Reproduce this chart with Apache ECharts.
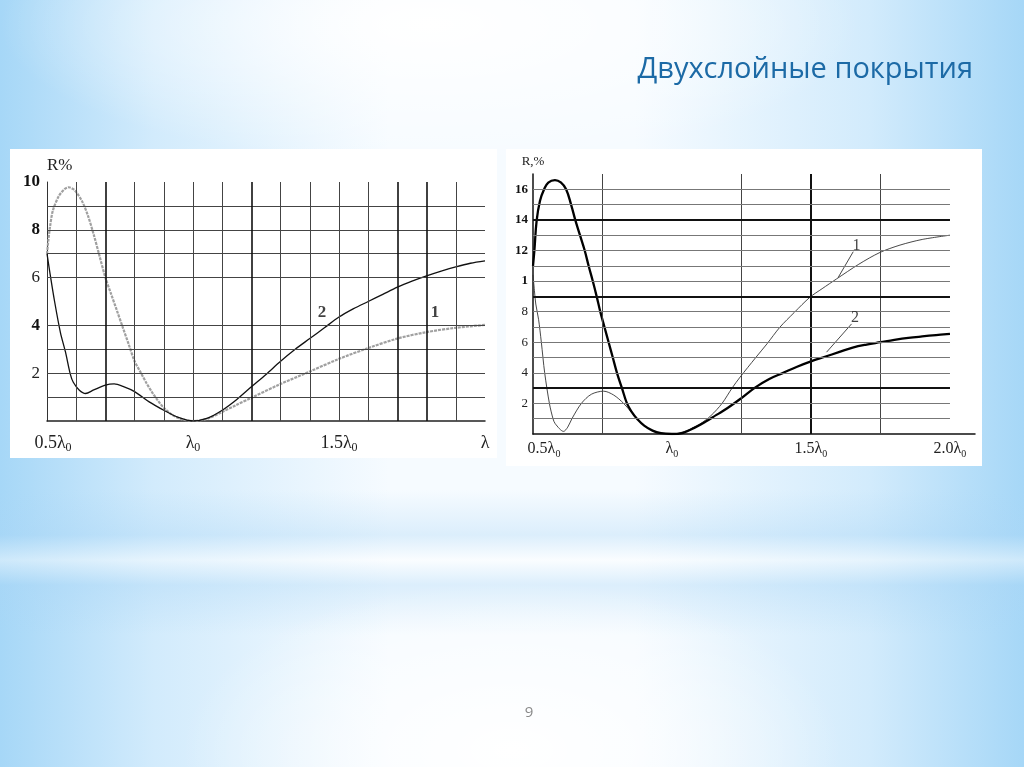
<!DOCTYPE html>
<html>
<head>
<meta charset="utf-8">
<script src="https://cdn.jsdelivr.net/npm/echarts@6/dist/echarts.min.js"></script>
<style>
  html, body { margin: 0; padding: 0; }
  body {
    width: 1024px;
    height: 767px;
    overflow: hidden;
    background:
      radial-gradient(ellipse 330px 170px at 512px 750px, rgba(255,255,255,1), rgba(255,255,255,0)),
      linear-gradient(180deg, rgba(255,255,255,0) 490px, rgba(170,214,246,0.35) 535px, rgba(255,255,255,0.45) 560px, rgba(170,214,246,0.35) 585px, rgba(255,255,255,0) 635px),
      radial-gradient(ellipse 430px 140px at 430px 25px, rgba(255,255,255,1), rgba(255,255,255,0)),
      linear-gradient(90deg, #a6d7f7 0%, #d2ebfc 15%, #f6fbff 38%, #f6fbff 62%, #d2ebfc 85%, #a6d7f7 100%);
  }
  #chart { width: 1024px; height: 767px; }
</style>
</head>
<body>
<div id="chart"></div>
<script>
// left plot: curve 1 (grey) and curve 2 (black)
const leftLam1 = [0.50, 0.505, 0.51, 0.52, 0.54, 0.56, 0.575, 0.59, 0.60, 0.62, 0.64, 0.66, 0.68, 0.70, 0.72, 0.74, 0.76, 0.78, 0.80, 0.82, 0.84, 0.86, 0.88, 0.90, 0.93, 0.96, 1.00, 1.05, 1.10, 1.15, 1.20, 1.30, 1.40, 1.50, 1.60, 1.70, 1.80, 1.90, 2.00];
const leftR1 = [7.0, 7.6, 8.1, 8.8, 9.4, 9.7, 9.78, 9.7, 9.58, 9.2, 8.6, 7.8, 6.9, 6.0, 5.3, 4.6, 3.9, 3.2, 2.5, 2.05, 1.6, 1.2, 0.85, 0.55, 0.25, 0.08, 0.0, 0.1, 0.38, 0.68, 0.97, 1.55, 2.07, 2.6, 3.05, 3.45, 3.72, 3.9, 4.02];
const leftLam2 = [0.50, 0.51, 0.526, 0.546, 0.563, 0.58, 0.59, 0.61, 0.632, 0.66, 0.70, 0.73, 0.76, 0.80, 0.85, 0.90, 0.95, 1.00, 1.05, 1.10, 1.15, 1.20, 1.25, 1.30, 1.35, 1.40, 1.45, 1.50, 1.55, 1.60, 1.65, 1.70, 1.75, 1.80, 1.85, 1.90, 1.95, 2.00];
const leftR2 = [7.0, 6.2, 5.0, 3.7, 2.9, 1.95, 1.62, 1.3, 1.15, 1.3, 1.5, 1.55, 1.45, 1.23, 0.8, 0.45, 0.15, 0.0, 0.12, 0.45, 0.9, 1.43, 1.95, 2.5, 3.0, 3.45, 3.9, 4.35, 4.7, 5.0, 5.3, 5.6, 5.85, 6.07, 6.27, 6.45, 6.6, 6.7];

// right plot: curve 1 (thin) and curve 2 (thick)
const rightLam1 = [0.50, 0.505, 0.51, 0.52, 0.53, 0.542, 0.559, 0.572, 0.58, 0.61, 0.625, 0.64, 0.674, 0.71, 0.754, 0.79, 0.826, 0.874, 0.90, 0.93, 0.96, 1.00, 1.05, 1.10, 1.14, 1.18, 1.216, 1.245, 1.30, 1.342, 1.388, 1.44, 1.496, 1.54, 1.592, 1.672, 1.748, 1.82, 1.90, 2.00];
const rightR1 = [10.4, 9.4, 8.5, 7.5, 6.0, 4.0, 2.0, 1.0, 0.67, 0.17, 0.45, 1.0, 2.0, 2.6, 2.8, 2.55, 2.0, 1.0, 0.55, 0.22, 0.05, 0.0, 0.2, 0.65, 1.2, 2.0, 3.0, 3.72, 4.97, 5.9, 6.98, 7.95, 8.94, 9.5, 10.14, 11.1, 11.87, 12.35, 12.72, 13.0];
const rightLam2 = [0.50, 0.505, 0.513, 0.525, 0.54, 0.555, 0.579, 0.60, 0.619, 0.637, 0.652, 0.669, 0.686, 0.70, 0.715, 0.729, 0.742, 0.757, 0.772, 0.787, 0.802, 0.82, 0.838, 0.855, 0.874, 0.90, 0.93, 0.96, 1.00, 1.04, 1.08, 1.12, 1.16, 1.20, 1.25, 1.30, 1.35, 1.40, 1.45, 1.50, 1.55, 1.60, 1.65, 1.70, 1.75, 1.80, 1.85, 1.90, 1.95, 2.00];
const rightR2 = [11.0, 12.0, 13.94, 15.24, 16.0, 16.44, 16.6, 16.45, 16.0, 15.0, 14.0, 13.0, 12.0, 11.0, 10.0, 9.0, 8.0, 7.0, 6.0, 5.0, 4.0, 3.0, 2.0, 1.45, 1.0, 0.55, 0.22, 0.05, 0.0, 0.08, 0.4, 0.8, 1.25, 1.7, 2.35, 3.05, 3.6, 4.0, 4.4, 4.75, 5.05, 5.35, 5.65, 5.85, 6.0, 6.15, 6.28, 6.38, 6.47, 6.55];

// grid lines
const leftVLines = [0.6, 0.8, 0.9, 1.0, 1.1, 1.3, 1.4, 1.5, 1.6, 1.9];
const leftVLinesBold = [0.7, 1.2, 1.7, 1.8];
const leftHLines = [1, 2, 3, 4, 6, 7, 8, 9];
const rightVLines = [0.75, 1.25, 1.75];
const rightVLinesBold = [1.5];
const rightHLines = [1, 2, 4, 5, 6, 7, 8, 10, 11, 12, 13, 15, 16];
const rightHLinesBold = [3, 9, 14];

// tick labels
const leftXLabels = { '0.5': '0.5λ', '1': 'λ', '1.5': '1.5λ', '2': 'λ' };
const rightXLabels = { '0.5': '0.5λ', '1': 'λ', '1.5': '1.5λ', '2': '2.0λ' };
const leftYLabels = { 2: 'r|2', 4: 'b|4', 6: 'r|6', 8: 'b|8', 10: 'b|10' };
const rightYLabels = { 2: 'r|2', 4: 'r|4', 6: 'r|6', 8: 'r|8', 10: 'b|1', 12: 'b|12', 14: 'b|14', 16: 'b|16' };

// curve tags
const leftTags = ['2', '1'];
const leftTagLam = [1.442, 1.829];
const leftTagR = [4.52, 4.52];
const rightTags = ['1', '2'];
const rightTagLam = [1.664, 1.658];
const rightTagR = [12.3, 7.62];
const lead1Lam = [1.652, 1.598];
const lead1R = [11.92, 10.24];
const lead2Lam = [1.646, 1.556];
const lead2R = [7.2, 5.35];

const serif = 'Liberation Serif';

function zip(xs, ys) {
  return xs.map((x, i) => [x, ys[i]]);
}

function tagData(names, xs, ys) {
  return names.map((n, i) => ({ name: n, value: [xs[i], ys[i]] }));
}

function gridLines(idx, vs, hs, width, color, xFrom, xTo) {
  const data = [];
  vs.forEach(v => data.push({ xAxis: v }));
  hs.forEach(v => {
    if (xFrom !== undefined) {
      data.push([{ coord: [xFrom, v] }, { coord: [xTo, v] }]);
    } else {
      data.push({ yAxis: v });
    }
  });
  return {
    type: 'line',
    xAxisIndex: idx,
    yAxisIndex: idx,
    data: [],
    z: 1,
    silent: true,
    markLine: {
      silent: true,
      symbol: 'none',
      animation: false,
      label: { show: false },
      lineStyle: { color, width, type: 'solid' },
      data
    }
  };
}

// first label sits right of its tick in the original, push it with a spacer
function xLabel(map, size, sub, shift) {
  return {
    fontFamily: serif,
    color: '#222',
    formatter: v => {
      const key = String(Math.round(v * 100) / 100);
      if (!(key in map)) return '';
      const t = map[key];
      if (key === '2' && t === 'λ') return '{n|λ}';
      const pre = key === '0.5' ? '{sp|}' : '';
      return pre + '{n|' + t + '}{s|0}';
    },
    rich: {
      sp: { width: shift },
      n: { fontFamily: serif, fontSize: size, lineHeight: size + 4, verticalAlign: 'middle', color: '#222' },
      s: { fontFamily: serif, fontSize: sub, lineHeight: sub, verticalAlign: 'bottom', color: '#222' }
    }
  };
}

function yLabel(map, size, margin) {
  return {
    margin,
    formatter: v => {
      const t = map[Math.round(v)];
      if (!t || Math.abs(v - Math.round(v)) > 1e-6) return '';
      return '{' + t + '}';
    },
    rich: {
      b: { fontFamily: serif, fontSize: size, fontWeight: 'bold', color: '#111' },
      r: { fontFamily: serif, fontSize: size, color: '#222' }
    }
  };
}

let option = {
  animation: false,
  title: {
    text: 'Двухслойные покрытия',
    right: 46,
    top: 50,
    textStyle: {
      fontFamily: 'Open Sans',
      fontSize: 29,
      fontWeight: 'normal',
      color: '#1c6aa6'
    }
  },
  graphic: {
    elements: [
      { type: 'rect', z: -100, shape: { x: 10, y: 149, width: 487, height: 309 }, style: { fill: '#ffffff' } },
      { type: 'rect', z: -100, shape: { x: 506, y: 149, width: 476, height: 317 }, style: { fill: '#ffffff' } },
      { type: 'text', x: 529, y: 713, style: { text: '9', fontFamily: 'Open Sans', fontSize: 15, fill: '#8a8a8a', align: 'center', verticalAlign: 'middle' } }
    ]
  },
  grid: [
    { left: 47, top: 182, width: 438, height: 239 },
    { left: 533, top: 174, width: 442, height: 260 }
  ],
  xAxis: [
    {
      gridIndex: 0,
      type: 'value',
      min: 0.5,
      max: 2.0,
      interval: 0.5,
      splitLine: { show: false },
      axisTick: { show: false },
      axisLine: { lineStyle: { color: '#222', width: 1.5 } },
      axisLabel: Object.assign({ margin: 11 }, xLabel(leftXLabels, 18, 12, 12))
    },
    {
      gridIndex: 1,
      type: 'value',
      min: 0.5,
      max: 2.09,
      interval: 0.5,
      splitLine: { show: false },
      axisTick: { show: false },
      axisLine: { lineStyle: { color: '#111', width: 1.5 } },
      axisLabel: Object.assign({ margin: 5 }, xLabel(rightXLabels, 16, 10, 22))
    }
  ],
  yAxis: [
    {
      gridIndex: 0,
      type: 'value',
      min: 0,
      max: 10,
      interval: 2,
      name: 'R%',
      nameLocation: 'end',
      nameGap: 8,
      nameTextStyle: { fontFamily: serif, fontSize: 17, color: '#222', align: 'left' },
      splitLine: { show: false },
      axisTick: { show: false },
      axisLine: { show: true, lineStyle: { color: '#333', width: 1 } },
      axisLabel: yLabel(leftYLabels, 17, 7)
    },
    {
      gridIndex: 1,
      type: 'value',
      min: 0,
      max: 17,
      interval: 2,
      name: 'R,%',
      nameLocation: 'end',
      nameGap: 6,
      nameTextStyle: { fontFamily: serif, fontSize: 13, color: '#222', align: 'center' },
      splitLine: { show: false },
      axisTick: { show: false },
      axisLine: { show: true, lineStyle: { color: '#111', width: 1.5 } },
      axisLabel: yLabel(rightYLabels, 13, 5)
    }
  ],
  series: [
    gridLines(0, leftVLines, leftHLines, 1, '#444'),
    gridLines(0, leftVLinesBold, [], 1.6, '#111'),
    gridLines(1, rightVLines, [], 1, '#444'),
    gridLines(1, rightVLinesBold, [], 2, '#111'),
    gridLines(1, [], rightHLines, 1, '#777', 0.5, 2.0),
    gridLines(1, [], rightHLinesBold, 2, '#111', 0.5, 2.0),
    {
      name: '1',
      type: 'line',
      xAxisIndex: 0,
      yAxisIndex: 0,
      z: 3,
      smooth: 0.3,
      showSymbol: false,
      lineStyle: { color: '#a0a0a0', width: 2.2, type: [3, 1] },
      data: zip(leftLam1, leftR1)
    },
    {
      name: '2',
      type: 'line',
      xAxisIndex: 0,
      yAxisIndex: 0,
      z: 4,
      smooth: 0.3,
      showSymbol: false,
      lineStyle: { color: '#111', width: 1.3 },
      data: zip(leftLam2, leftR2)
    },
    {
      name: 'r1',
      type: 'line',
      xAxisIndex: 1,
      yAxisIndex: 1,
      z: 3,
      smooth: 0.3,
      showSymbol: false,
      lineStyle: { color: '#333', width: 0.9 },
      data: zip(rightLam1, rightR1)
    },
    {
      name: 'r2',
      type: 'line',
      xAxisIndex: 1,
      yAxisIndex: 1,
      z: 4,
      smooth: 0.4,
      showSymbol: false,
      lineStyle: { color: '#000', width: 2.3 },
      data: zip(rightLam2, rightR2)
    },
    {
      type: 'line',
      xAxisIndex: 1,
      yAxisIndex: 1,
      z: 3,
      showSymbol: false,
      lineStyle: { color: '#333', width: 0.9 },
      data: zip(lead1Lam, lead1R)
    },
    {
      type: 'line',
      xAxisIndex: 1,
      yAxisIndex: 1,
      z: 3,
      showSymbol: false,
      lineStyle: { color: '#333', width: 0.9 },
      data: zip(lead2Lam, lead2R)
    },
    {
      type: 'scatter',
      xAxisIndex: 0,
      yAxisIndex: 0,
      z: 5,
      symbolSize: 1,
      itemStyle: { color: 'rgba(0,0,0,0)' },
      label: {
        show: true,
        position: 'inside',
        formatter: p => p.name,
        fontFamily: serif,
        fontSize: 17,
        fontWeight: 'bold',
        color: '#111'
      },
      data: tagData(leftTags, leftTagLam, leftTagR)
    },
    {
      type: 'scatter',
      xAxisIndex: 1,
      yAxisIndex: 1,
      z: 5,
      symbolSize: 1,
      itemStyle: { color: 'rgba(0,0,0,0)' },
      label: {
        show: true,
        position: 'inside',
        formatter: p => p.name,
        fontFamily: serif,
        fontSize: 16,
        color: '#111'
      },
      data: tagData(rightTags, rightTagLam, rightTagR)
    }
  ]
};

const chart = echarts.init(document.getElementById('chart'));
chart.setOption(option);
</script>
</body>
</html>
